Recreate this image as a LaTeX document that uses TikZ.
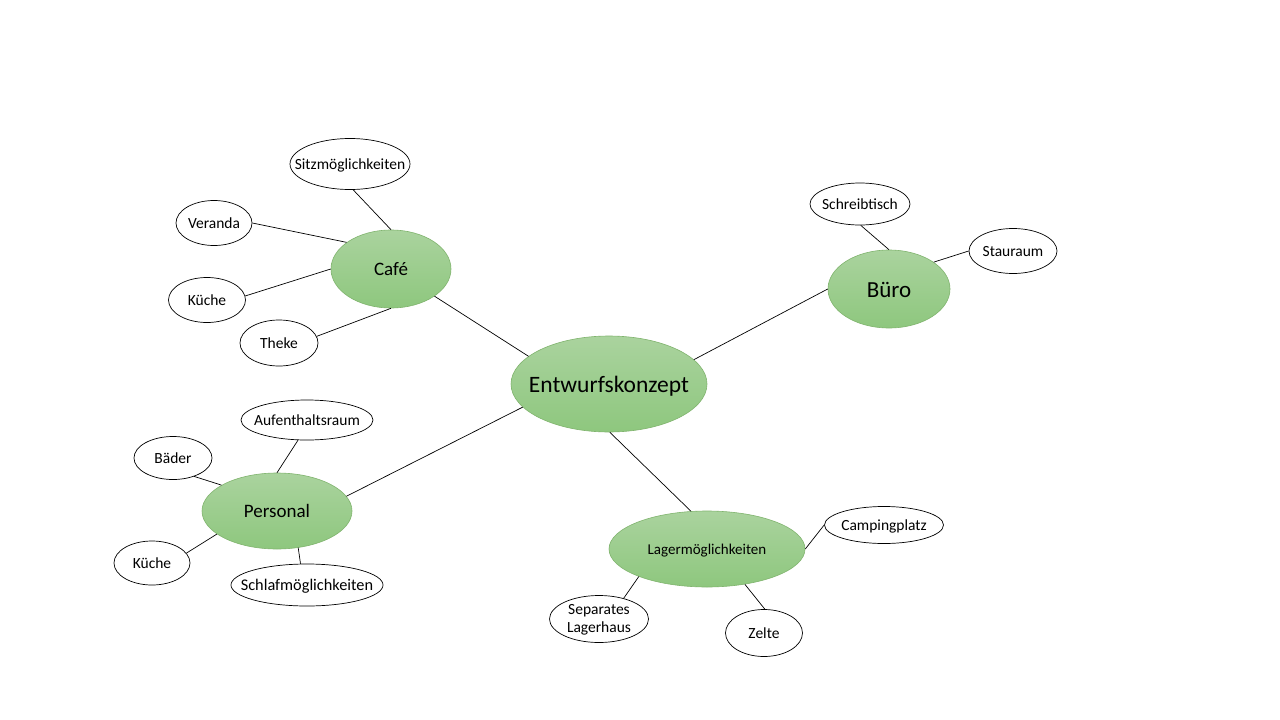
\documentclass[tikz,border=0pt]{standalone}
\usepackage{fontspec}
\setmainfont{Carlito}
\usetikzlibrary{shapes.geometric}
\definecolor{gtop}{RGB}{170,211,158}
\definecolor{gbot}{RGB}{142,199,126}
\definecolor{gedge}{RGB}{128,180,110}
\tikzset{
  main/.style={ellipse, inner sep=0pt, top color=gtop, bottom color=gbot, draw=gedge, line width=0.6pt, text=black},
  sub/.style={ellipse, inner sep=0pt, draw=black, fill=white, line width=0.7pt, font=\fontsize{15.5}{18}\selectfont},
  link/.style={draw=black, line width=0.7pt}
}
\newcommand\ct[1]{\makebox[0pt]{\raisebox{-0.36em}[0pt][0pt]{#1}}}
\newcommand\ctt[1]{\makebox[0pt]{\raisebox{-4.9pt}[0pt][0pt]{#1}}}
\begin{document}
\begin{tikzpicture}[x=1pt,y=-1pt]
\useasboundingbox[fill=white] (0,0) rectangle (1280,720);
% main nodes
\node[main, minimum width=196, minimum height=96, font=\fontsize{23.5}{28}\selectfont] (ek) at (609,384) {\ct{Entwurfskonzept}};
\node[main, minimum width=120, minimum height=78, font=\fontsize{19}{23}\selectfont] (cafe) at (391,269) {\ct{Café}};
\node[main, minimum width=122, minimum height=78, font=\fontsize{23}{27}\selectfont] (buero) at (889,289) {\ct{Büro}};
\node[main, minimum width=150, minimum height=76, font=\fontsize{19}{23}\selectfont] (pers) at (277,511) {\ct{Personal}};
\node[main, minimum width=196, minimum height=76, font=\fontsize{15}{18}\selectfont] (lager) at (707,549) {\ct{Lagermöglichkeiten}};
% sub nodes
\node[sub, minimum width=120, minimum height=51] (sitz) at (350,164) {\ct{Sitzmöglichkeiten}};
\node[sub, minimum width=76, minimum height=45] (veranda) at (214,223) {\ct{Veranda}};
\node[sub, minimum width=77, minimum height=45] (kueche1) at (207,300) {\ct{Küche}};
\node[sub, minimum width=78, minimum height=46] (theke) at (279,343) {\ct{Theke}};
\node[sub, minimum width=100, minimum height=42] (schreib) at (860,204) {\ct{Schreibtisch}};
\node[sub, minimum width=88, minimum height=45] (stau) at (1013,251) {\ct{Stauraum}};
\node[sub, minimum width=132, minimum height=40] (aufent) at (307,420) {\ct{Aufenthaltsraum}};
\node[sub, minimum width=78, minimum height=43] (baeder) at (173,458) {\ct{Bäder}};
\node[sub, minimum width=76, minimum height=44] (kueche2) at (152,563) {\ct{Küche}};
\node[sub, minimum width=152, minimum height=42, font=\fontsize{16.3}{19}\selectfont] (schlaf) at (307,585) {\ct{Schlafmöglichkeiten}};
\node[sub, minimum width=119, minimum height=37] (camp) at (884,525) {\ct{Campingplatz}};
\node[sub, minimum width=99, minimum height=47] (sep) at (599,619) {\ctt{\begin{tabular}{@{}c@{}}Separates\\[0pt]Lagerhaus\end{tabular}}};
\node[sub, minimum width=77, minimum height=47] (zelte) at (764,633) {\ct{Zelte}};
% main links
\draw[link] (ek.161.6) -- (cafe.-32.8);
\draw[link] (ek.16) -- (buero.180);
\draw[link] (ek.-165) -- (pers.12);
\draw[link] (ek.-89) -- (lager.113);
% cafe links
\draw[link] (sitz.-83) -- (cafe.90);
\draw[link] (veranda.0) -- (cafe.149);
\draw[link] (kueche1.6) -- (cafe.180);
\draw[link] (theke.10) -- (cafe.-90);
% buero links
\draw[link] (schreib.-88) -- (buero.90);
\draw[link] (stau.180) -- (buero.31);
% personal links
\draw[link] (aufent.-114) -- (pers.90);
\draw[link] (baeder.-41) -- (pers.155);
\draw[link] (kueche2.16) -- (pers.-159);
\draw[link] (schlaf.107) -- (pers.-60);
% lager links
\draw[link] (camp.180) -- (lager.0);
\draw[link] (sep.40) -- (lager.-158);
\draw[link] (zelte.88) -- (lager.-43);
\end{tikzpicture}
\end{document}
